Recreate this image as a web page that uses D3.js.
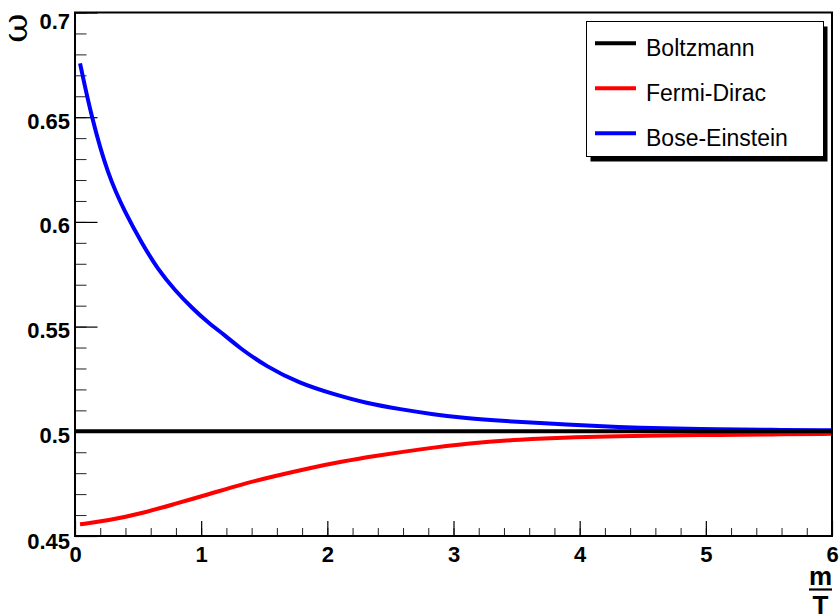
<!DOCTYPE html>
<html>
<head>
<meta charset="utf-8">
<script src="https://cdn.jsdelivr.net/npm/d3@7"></script>
<style>
  html, body { margin: 0; padding: 0; background: #fff; }
  svg { display: block; }
</style>
</head>
<body>
<svg id="chart" width="839" height="616"></svg>
<script>
// ---- data ----
const seriesNames = ["Boltzmann", "Fermi-Dirac", "Bose-Einstein"];
const seriesColors = ["#000000", "#ff0000", "#0000ff"];

const boltzmannX = [0, 6];
const boltzmannY = [0.5, 0.5];

const fermiX = [0.04, 0.26, 0.53, 0.79, 1.06, 1.32, 1.59, 1.85, 2.11, 2.38, 2.73, 3.13, 3.53, 3.92, 4.32, 4.64, 5.11, 5.51, 6.0];
const fermiY = [0.4556, 0.4573, 0.4608, 0.4653, 0.4699, 0.4747, 0.4787, 0.4823, 0.4855, 0.4882, 0.4914, 0.4944, 0.4961, 0.4971, 0.4977, 0.4980, 0.4983, 0.4985, 0.4988];

const boseX = [0.04, 0.13, 0.26, 0.40, 0.53, 0.66, 0.79, 0.93, 1.06, 1.19, 1.30, 1.52, 1.78, 2.05, 2.31, 2.58, 2.84, 3.10, 3.37, 3.92, 4.32, 4.64, 5.11, 5.51, 6.0];
const boseY = [0.6757, 0.6502, 0.6224, 0.6041, 0.5898, 0.5770, 0.5675, 0.5587, 0.5516, 0.5458, 0.5400, 0.5308, 0.5229, 0.5177, 0.5134, 0.5105, 0.5081, 0.5062, 0.5050, 0.5032, 0.5020, 0.5014, 0.5010, 0.5007, 0.5005];

const xTickValues = [0, 1, 2, 3, 4, 5, 6];
const xTickLabels = ["0", "1", "2", "3", "4", "5", "6"];
const yTickValues = [0.45, 0.5, 0.55, 0.6, 0.65, 0.7];
const yTickLabels = ["0.45", "0.5", "0.55", "0.6", "0.65", "0.7"];

const xDomain = [0, 6];
const yDomain = [0.45, 0.7];

// ---- layout ----
const L = 75, R = 832, T = 12.5, B = 536;
const svg = d3.select("#chart");

const x = d3.scaleLinear().domain(xDomain).range([L, R]);
const y = d3.scaleLinear().domain(yDomain).range([B, T]);

const xMinor = d3.range(0, 6.0001, 0.2).map(v => +v.toFixed(2));
const yMinor = d3.range(0.45, 0.70001, 0.01).map(v => +v.toFixed(3));

// minor ticks
svg.append("g").attr("transform", `translate(0,${B})`)
  .call(d3.axisBottom(x).tickValues(xMinor).tickSize(-8).tickSizeOuter(0).tickFormat(""))
  .call(g => g.select(".domain").remove())
  .call(g => g.selectAll("line").attr("stroke", "#222").attr("stroke-width", 1));
svg.append("g").attr("transform", `translate(${L},0)`)
  .call(d3.axisLeft(y).tickValues(yMinor).tickSize(-11.5).tickSizeOuter(0).tickFormat(""))
  .call(g => g.select(".domain").remove())
  .call(g => g.selectAll("line").attr("stroke", "#222").attr("stroke-width", 1));

// major ticks + labels
svg.append("g").attr("transform", `translate(0,${B})`)
  .call(d3.axisBottom(x).tickValues(xTickValues).tickSize(-15).tickSizeOuter(0).tickPadding(10)
    .tickFormat((d, i) => xTickLabels[i]))
  .call(g => g.select(".domain").remove())
  .call(g => g.selectAll("line").attr("stroke", "#000").attr("stroke-width", 1.2))
  .call(g => g.selectAll("text").attr("fill", "#000")
    .attr("font-family", "'Liberation Sans', Arial, sans-serif")
    .attr("font-weight", "bold").attr("font-size", 22));

svg.append("g").attr("transform", `translate(${L},0)`)
  .call(d3.axisLeft(y).tickValues(yTickValues).tickSize(-22.5).tickSizeOuter(0).tickPadding(5)
    .tickFormat((d, i) => yTickLabels[i]))
  .call(g => g.select(".domain").remove())
  .call(g => g.selectAll("line").attr("stroke", "#000").attr("stroke-width", 1.2))
  .call(g => g.selectAll("text").attr("fill", "#000")
    .attr("font-family", "'Liberation Sans', Arial, sans-serif")
    .attr("font-weight", "bold").attr("font-size", 22)
    .attr("dy", d => d === 0.7 ? "0.73em" : (d === 0.45 ? "0.56em" : "0.5em")));

// series lines
const line = d3.line().x(d => x(d[0])).y(d => y(d[1])).curve(d3.curveBasis);
const seriesData = [
  d3.zip(boltzmannX, boltzmannY),
  d3.zip(fermiX, fermiY),
  d3.zip(boseX, boseY)
];
const drawOrder = [2, 1, 0];
svg.append("clipPath").attr("id", "plotclip")
  .append("rect").attr("x", L).attr("y", T).attr("width", R - L).attr("height", B - T);
svg.append("g").attr("clip-path", "url(#plotclip)")
  .selectAll("path").data(drawOrder).join("path")
  .attr("d", i => line(seriesData[i]))
  .attr("fill", "none")
  .attr("stroke", i => seriesColors[i])
  .attr("stroke-width", 4)
  .attr("stroke-linejoin", "round");

// frame
svg.append("rect").attr("x", L).attr("y", T).attr("width", R - L).attr("height", B - T)
  .attr("fill", "none").attr("stroke", "#000").attr("stroke-width", 2);

// legend
const lg = { x: 586.5, y: 21.5, w: 237, h: 135 };
svg.append("rect").attr("x", lg.x + 4).attr("y", lg.y + 5).attr("width", lg.w).attr("height", lg.h).attr("fill", "#000");
svg.append("rect").attr("x", lg.x).attr("y", lg.y).attr("width", lg.w).attr("height", lg.h)
  .attr("fill", "#fff").attr("stroke", "#000").attr("stroke-width", 1);
const rowY = [43.3, 88.3, 133.3];
const legendRows = svg.append("g").selectAll("g").data(seriesNames).join("g")
  .attr("transform", (d, i) => `translate(0,${rowY[i]})`);
legendRows.append("line").attr("x1", 595).attr("x2", 636).attr("y1", 0).attr("y2", 0)
  .attr("stroke", (d, i) => seriesColors[i]).attr("stroke-width", 4);
legendRows.append("text").attr("x", 646).attr("y", 12.8)
  .attr("font-family", "'Liberation Sans', Arial, sans-serif")
  .attr("font-size", 23).attr("fill", "#000").text(d => d);

// axis titles
svg.append("text").attr("transform", "translate(27,28) rotate(-90)")
  .attr("text-anchor", "middle")
  .attr("font-family", "'DejaVu Serif', 'Liberation Serif', serif")
  .attr("font-size", 36).attr("fill", "#000").text("ω");

const xt = svg.append("g").attr("font-family", "'Liberation Sans', Arial, sans-serif")
  .attr("font-weight", "bold").attr("font-size", 26).attr("fill", "#000").attr("text-anchor", "middle");
xt.append("text").attr("x", 820.5).attr("y", 585).text("m");
xt.append("line").attr("x1", 809).attr("x2", 832).attr("y1", 589.5).attr("y2", 589.5)
  .attr("stroke", "#000").attr("stroke-width", 2.2);
xt.append("text").attr("x", 820.5).attr("y", 614).text("T");
</script>
</body>
</html>
